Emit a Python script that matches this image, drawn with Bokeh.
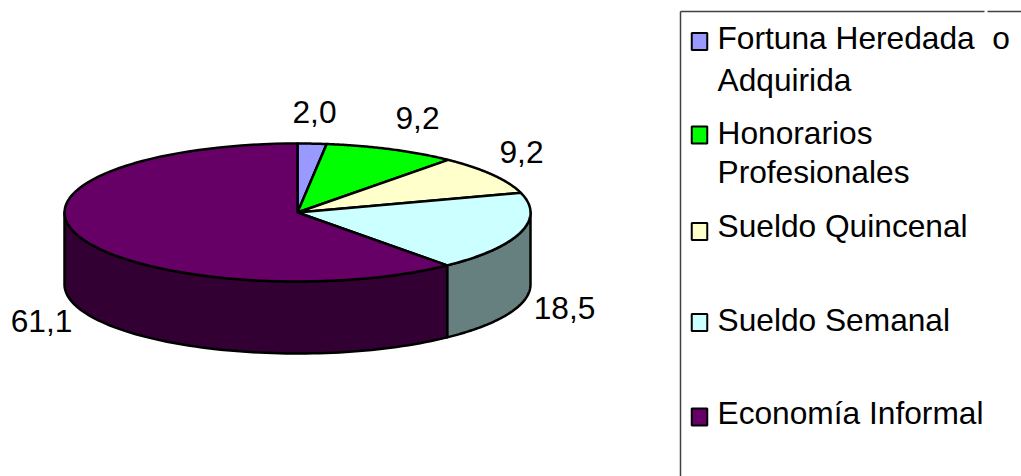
import numpy as np
from bokeh.plotting import figure
from bokeh.models import Range1d
from bokeh.core.properties import value
from bokeh.embed import file_html
from bokeh.resources import INLINE

categories = ["Fortuna Heredada\u00a0 o\nAdquirida", "Honorarios\nProfesionales", "Sueldo Quincenal", "Sueldo Semanal", "Economía Informal"]
values = [2.0, 9.2, 9.2, 18.5, 61.1]
labels = ["2,0", "9,2", "9,2", "18,5", "61,1"]
colors = ["#9999FF", "#00FF00", "#FFFFCC", "#CCFFFF", "#660066"]
side_colors = ["#4D4D80", "#008000", "#808066", "#668080", "#330033"]

CX, CY, RX, RY, DEPTH = 297, 212, 233, 69, 72
FONT = "Liberation Sans"
FS = "31.7px"

p = figure(width=1021, height=476, x_range=Range1d(0, 1021), y_range=Range1d(476, 0),
           toolbar_location=None, output_backend="svg", min_border=0,
           background_fill_color="white", border_fill_color="white")
p.xaxis.visible = False
p.yaxis.visible = False
p.grid.visible = False
p.outline_line_color = None


def rim(a0, a1, n=80, dy=0):
    t = np.radians(np.linspace(a0, a1, n))
    return CX + RX * np.sin(t), CY + dy - RY * np.cos(t)


edges = np.cumsum([0] + values) / sum(values) * 360

for i, col in enumerate(side_colors):
    a0, a1 = max(edges[i], 90), min(edges[i + 1], 270)
    if a1 <= a0:
        continue
    xt, yt = rim(a0, a1)
    xb, yb = rim(a1, a0, dy=DEPTH)
    p.patch(list(xt) + list(xb), list(yt) + list(yb), fill_color=col,
            line_color="black", line_width=2.5, line_join="round")

for i, col in enumerate(colors):
    xt, yt = rim(edges[i], edges[i + 1])
    p.patch([CX] + list(xt), [CY] + list(yt), fill_color=col,
            line_color="black", line_width=2.5, line_join="round")

label_x = [314, 417, 521, 564, 41]
label_y = [111, 117, 151, 307, 320]
p.text(label_x, label_y, text=labels, text_font=value(FONT), text_font_size=value(FS),
       text_color="black", text_align="center", text_baseline="middle")

p.multi_line([[680, 680], [680, 984], [987, 1021]], [[11, 476], [11, 11], [11, 11]],
             line_color="#404040", line_width=1.5)

swatch_y = [41, 134.5, 231, 322, 416.5]
p.rect([699] * 5, swatch_y, width=15.5, height=17, fill_color=colors,
       line_color="black", line_width=2)

legend_lines = []
legend_mid = []
mids = [[37, 79], [132, 171], [225], [319], [412]]
for cat, m in zip(categories, mids):
    for line, y in zip(cat.split("\n"), m):
        legend_lines.append(line)
        legend_mid.append(y)
p.text([717] * len(legend_lines), legend_mid, text=legend_lines, text_font=value(FONT),
       text_font_size=value(FS), text_color="black", text_align="left", text_baseline="middle")

open("out.html", "w").write(file_html(p, INLINE))
